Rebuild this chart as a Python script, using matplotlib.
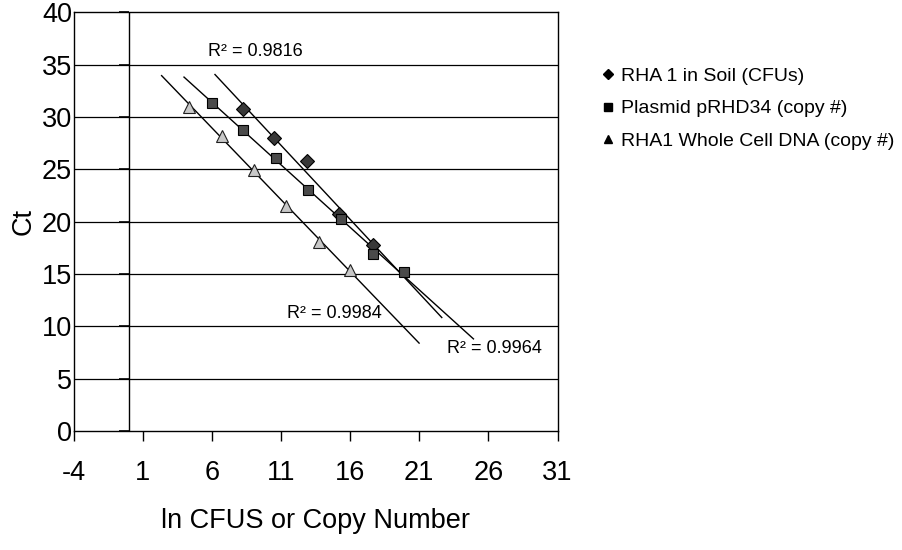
import matplotlib
matplotlib.use("Agg")
import matplotlib.pyplot as plt
from matplotlib.lines import Line2D
import numpy as np

plt.rcParams['font.family'] = ['Liberation Sans', 'DejaVu Sans']
plt.rcParams['axes.unicode_minus'] = False

# RHA 1 in soil (CFUs)
soil_x = [8.23, 10.5, 12.9, 15.22, 17.63]
soil_ct = [30.8, 28.0, 25.8, 20.7, 17.8]
# plasmid pRHD34 (copy #)
plasmid_x = [5.99, 8.28, 10.64, 12.96, 15.34, 17.63, 19.92]
plasmid_ct = [31.3, 28.8, 26.1, 23.0, 20.3, 16.9, 15.2]
# RHA1 whole cell DNA (copy #)
cell_x = [4.37, 6.76, 9.05, 11.37, 13.75, 15.99]
cell_ct = [31.0, 28.2, 24.9, 21.5, 18.1, 15.4]

labels = ['RHA 1 in Soil (CFUs)', 'Plasmid pRHD34 (copy #)', 'RHA1 Whole Cell DNA (copy #)']
r2_text = ['R² = 0.9816', 'R² = 0.9984', 'R² = 0.9964']
xticks = [-4, 1, 6, 11, 16, 21, 26, 31]
yticks = [0, 5, 10, 15, 20, 25, 30, 35, 40]

fig = plt.figure(figsize=(9.02, 5.5), dpi=100)
ax = fig.add_axes([0.0815, 0.2164, 0.5366, 0.7612])

ax.set_xlim(-4, 31)
ax.set_ylim(0, 40)
for y in yticks[1:-1]:
    ax.axhline(y, color='black', lw=0.9, zorder=1)
ax.axvline(0, color='black', lw=1, zorder=1)
# y tick marks sit on the x=0 axis
ax.plot([0] * len(yticks), yticks, ls='none', marker=0, ms=7, mew=1.2,
        color='black', clip_on=False, zorder=2)

# trendlines: 2 units backward, 5 units forward
for xs, ys in [(soil_x, soil_ct), (plasmid_x, plasmid_ct), (cell_x, cell_ct)]:
    m, b = np.polyfit(xs, ys, 1)
    fx = np.array([min(xs) - 2, max(xs) + 5])
    ax.plot(fx, m * fx + b, color='black', lw=1, zorder=3)

ax.plot(soil_x, soil_ct, ls='none', marker='D', ms=7.5, mfc='#383838', mec='black', mew=0.8, zorder=4)
ax.plot(plasmid_x, plasmid_ct, ls='none', marker='s', ms=7, mfc='#4a4a4a', mec='black', mew=0.8, zorder=4)
ax.plot(cell_x, cell_ct, ls='none', marker='^', ms=8.5, mfc='#c8c8c8', mec='#202020', mew=0.8, zorder=4)

ax.text(5.73, 36.3, r2_text[0], fontsize=13, va='center', ha='left')
ax.text(11.46, 11.2, r2_text[1], fontsize=13, va='center', ha='left')
ax.text(22.98, 7.9, r2_text[2], fontsize=13, va='center', ha='left')

ax.set_xticks(xticks)
ax.set_yticks(yticks)
ax.tick_params(axis='x', direction='out', length=7, width=1, pad=14, labelsize=19.5)
ax.tick_params(axis='y', length=0, pad=1, labelsize=19.5)
for s in ax.spines.values():
    s.set_linewidth(1)

ax.set_xlabel('ln CFUS or Copy Number', fontsize=19.5, labelpad=16)
ax.set_ylabel('Ct', fontsize=19.5, labelpad=4)

handles = [
    Line2D([], [], ls='none', marker='D', ms=5.5, color='black'),
    Line2D([], [], ls='none', marker='s', ms=6, color='black'),
    Line2D([], [], ls='none', marker='^', ms=6, color='black'),
]
fig.legend(handles, labels, loc='upper left', bbox_to_anchor=(0.6675, 0.878),
           frameon=False, fontsize=14, handlelength=0.6, handletextpad=0.38,
           labelspacing=0.78, borderpad=0, borderaxespad=0)

fig.savefig('out.png', dpi=100)
